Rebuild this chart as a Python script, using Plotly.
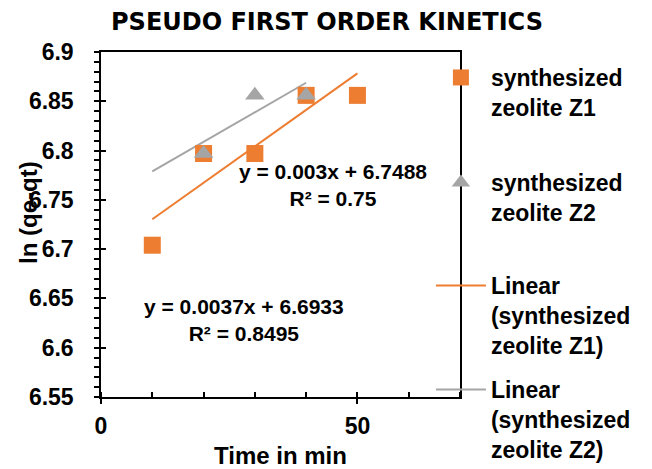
import plotly.graph_objects as go

# ---------------- data ----------------
time_z1 = [10, 20, 30, 40, 50]
lnq_z1 = [6.704, 6.797, 6.797, 6.856, 6.856]

time_z2 = [20, 30, 40]
lnq_z2 = [6.797, 6.856, 6.856]

# Excel linear trendlines (from the equations shown on the chart)
trend_z1_slope, trend_z1_intercept = 0.0037, 6.6933
trend_z1_x = [10, 50]
trend_z2_slope, trend_z2_intercept = 0.003, 6.7488
trend_z2_x = [10, 40]

x_tick_vals = [0, 50]
y_tick_vals = [6.55, 6.6, 6.65, 6.7, 6.75, 6.8, 6.85, 6.9]
y_tick_text = ["6.55", "6.6", "6.65", "6.7", "6.75", "6.8", "6.85", "6.9"]

ORANGE = "#ED7D31"
GRAY = "#A5A5A5"
FONT = "Liberation Sans, Arial, sans-serif"

trend_z1_y = [trend_z1_slope * x + trend_z1_intercept for x in trend_z1_x]
trend_z2_y = [trend_z2_slope * x + trend_z2_intercept for x in trend_z2_x]

fig = go.Figure()

fig.add_trace(go.Scatter(
    x=trend_z1_x, y=trend_z1_y, mode="lines",
    line=dict(color=ORANGE, width=2),
    name="Linear<br>(synthesized<br>zeolite Z1)", legend="legend3"))
fig.add_trace(go.Scatter(
    x=trend_z2_x, y=trend_z2_y, mode="lines",
    line=dict(color=GRAY, width=2),
    name="Linear<br>(synthesized<br>zeolite Z2)", legend="legend4"))
fig.add_trace(go.Scatter(
    x=time_z1, y=lnq_z1, mode="markers",
    marker=dict(symbol="square", size=17, color=ORANGE),
    name="synthesized<br>zeolite Z1", legend="legend"))
fig.add_trace(go.Scatter(
    x=time_z2, y=lnq_z2, mode="markers",
    marker=dict(symbol="triangle-up", size=17, color=GRAY),
    name="synthesized<br>zeolite Z2", legend="legend2"))

# invisible trace to activate overlay axes (inside half of crossing ticks)
fig.add_trace(go.Scatter(x=[None], y=[None], xaxis="x2", yaxis="y2",
                         showlegend=False, hoverinfo="skip"))

tick_font = dict(family=FONT, size=23, color="black", weight="bold")
leg_common = dict(x=0.919, xanchor="left", yanchor="top",
                  font=dict(family=FONT, size=23, color="black", weight="bold"),
                  bgcolor="rgba(0,0,0,0)", valign="top", itemwidth=50)

fig.update_layout(
    width=652, height=469,
    margin=dict(l=101, r=192, t=52, b=72, autoexpand=False),
    paper_bgcolor="white", plot_bgcolor="white",
    title=dict(text="PSEUDO FIRST ORDER KINETICS",
               font=dict(family="DejaVu Sans, sans-serif", size=24, color="black", weight="bold"),
               x=327 / 652, xanchor="center", y=1 - 22 / 469, yanchor="middle"),
    xaxis=dict(range=[0, 70], tickvals=x_tick_vals, ticks="outside", ticklen=5,
               tickwidth=1.5, tickcolor="black", automargin=False,
               minor=dict(dtick=10, ticks="inside", ticklen=5, tickwidth=1.5, tickcolor="black"),
               showline=True, linecolor="black", linewidth=1.5, mirror=True,
               showgrid=False, zeroline=False, tickfont=tick_font, ticklabelstandoff=3,
               title=dict(text="Time in min", font=dict(family=FONT, size=24, color="black", weight="bold"),
                          standoff=10)),
    yaxis=dict(range=[6.55, 6.9], tickvals=y_tick_vals, ticktext=y_tick_text,
               ticks="outside", ticklen=5, tickwidth=1.5, tickcolor="black", automargin=False,
               minor=dict(dtick=0.01, ticks="outside", ticklen=5, tickwidth=1.5, tickcolor="black"),
               showline=True, linecolor="black", linewidth=1.5, mirror=True,
               showgrid=False, zeroline=False, tickfont=tick_font, ticklabelstandoff=16),
    xaxis2=dict(range=[0, 70], overlaying="x", anchor="y2", tickvals=x_tick_vals,
                ticks="inside", ticklen=5, tickwidth=1.5, tickcolor="black", automargin=False,
                showticklabels=False, showgrid=False, zeroline=False, showline=False, side="bottom"),
    yaxis2=dict(range=[6.55, 6.9], overlaying="y", anchor="x2", tickvals=y_tick_vals,
                ticks="inside", ticklen=5, tickwidth=1.5, tickcolor="black", automargin=False,
                showticklabels=False, showgrid=False, zeroline=False, showline=False, side="left"),
    legend=dict(y=(397 - 56) / 345, **leg_common),
    legend2=dict(y=(397 - 161) / 345, **leg_common),
    legend3=dict(y=(397 - 264) / 345, **leg_common),
    legend4=dict(y=(397 - 368) / 345, **leg_common),
    annotations=[
        # y-axis title (placed where the reference draws it)
        dict(x=(28 - 101) / 359, y=(397 - 213) / 345, xref="paper", yref="paper",
             text="ln (qe-qt)", textangle=-90, showarrow=False,
             xanchor="center", yanchor="middle",
             font=dict(family=FONT, size=24, color="black", weight="bold")),
        dict(x=45.2, y=6.765, xref="x", yref="y",
             text="y = 0.003x + 6.7488<br>R² = 0.75", showarrow=False,
             font=dict(family=FONT, size=21, color="black", weight="bold"), align="center"),
        dict(x=27.8, y=6.628, xref="x", yref="y",
             text="y = 0.0037x + 6.6933<br>R² = 0.8495", showarrow=False,
             font=dict(family=FONT, size=21, color="black", weight="bold"), align="center"),
    ],
)

fig.write_html("out.html", config={"displayModeBar": False},
               post_script="document.body.style.margin='0';document.body.style.overflow='hidden';")
